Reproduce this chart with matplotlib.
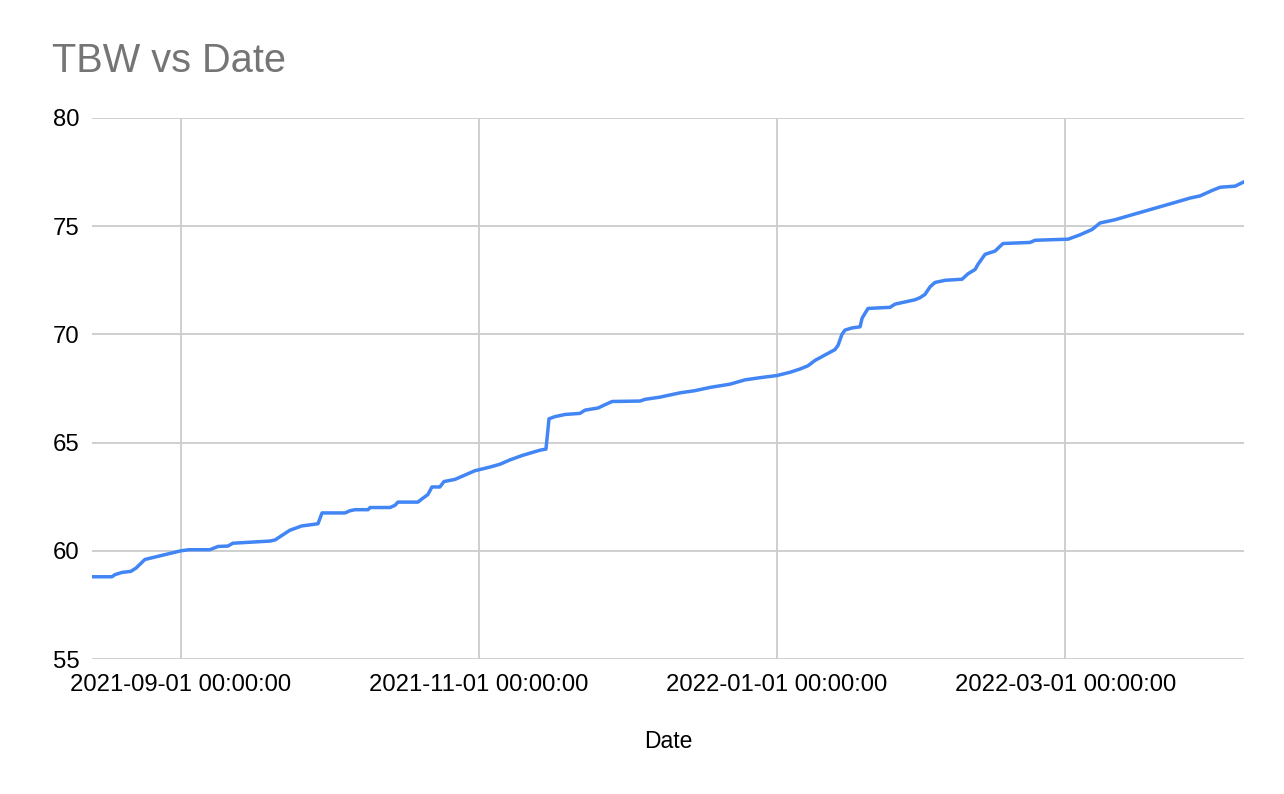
import matplotlib
matplotlib.use("Agg")
import matplotlib.pyplot as plt
import matplotlib.dates as mdates
import pandas as pd

plt.rcParams['font.family'] = ['Liberation Sans', 'DejaVu Sans']

# TBW readings
dates = [
    "2021-08-13 19:00", "2021-08-17 21:00", "2021-08-18 12:00", "2021-08-19 22:00",
    "2021-08-21 18:00", "2021-08-22 19:00", "2021-08-24 15:00", "2021-09-01 00:00",
    "2021-09-02 15:00", "2021-09-06 22:00", "2021-09-08 14:00", "2021-09-10 15:00",
    "2021-09-11 15:00", "2021-09-19 05:00", "2021-09-20 06:00", "2021-09-23 07:00",
    "2021-09-25 18:00", "2021-09-27 10:00", "2021-09-29 01:00", "2021-09-29 21:00",
    "2021-10-04 14:00", "2021-10-05 14:00", "2021-10-06 15:00", "2021-10-09 07:00",
    "2021-10-09 17:00", "2021-10-13 19:00", "2021-10-14 19:00", "2021-10-15 10:00",
    "2021-10-19 12:00", "2021-10-20 08:00", "2021-10-21 13:00", "2021-10-22 09:00",
    "2021-10-24 00:00", "2021-10-24 20:00", "2021-10-27 02:00", "2021-10-29 03:00",
    "2021-10-31 04:00", "2021-11-03 06:00", "2021-11-05 07:00", "2021-11-07 08:00",
    "2021-11-09 19:00", "2021-11-11 20:00", "2021-11-13 12:00", "2021-11-14 17:00",
    "2021-11-15 08:00", "2021-11-16 13:00", "2021-11-18 15:00", "2021-11-21 16:00",
    "2021-11-22 17:00", "2021-11-25 09:00", "2021-11-26 19:00", "2021-11-28 06:00",
    "2021-12-03 23:00", "2021-12-05 00:00", "2021-12-08 01:00", "2021-12-10 02:00",
    "2021-12-12 04:00", "2021-12-15 05:00", "2021-12-18 07:00", "2021-12-22 09:00",
    "2021-12-25 11:00", "2021-12-28 13:00", "2022-01-01 00:00", "2022-01-03 16:00",
    "2022-01-05 17:00", "2022-01-07 08:00", "2022-01-08 19:00", "2022-01-10 20:00",
    "2022-01-12 21:00", "2022-01-13 12:00", "2022-01-14 07:00", "2022-01-14 22:00",
    "2022-01-16 09:00", "2022-01-18 00:00", "2022-01-18 10:00", "2022-01-19 15:00",
    "2022-01-24 03:00", "2022-01-25 04:00", "2022-01-27 05:00", "2022-01-29 06:00",
    "2022-01-30 07:00", "2022-01-31 07:00", "2022-02-01 08:00", "2022-02-02 08:00",
    "2022-02-04 10:00", "2022-02-07 21:00", "2022-02-09 02:00", "2022-02-10 13:00",
    "2022-02-11 04:00", "2022-02-11 23:00", "2022-02-12 14:00", "2022-02-14 15:00",
    "2022-02-16 06:00", "2022-02-21 19:00", "2022-02-22 20:00", "2022-03-01 14:00",
    "2022-03-04 00:00", "2022-03-06 12:00", "2022-03-08 03:00", "2022-03-11 05:00",
    "2022-03-14 06:00", "2022-03-17 08:00", "2022-03-20 10:00", "2022-03-23 12:00",
    "2022-03-26 13:00", "2022-03-28 14:00", "2022-03-31 01:00", "2022-04-01 17:00",
    "2022-04-04 18:00", "2022-04-06 14:00",
]
tbw = [
    58.8, 58.8, 58.9, 59.0, 59.05, 59.2, 59.6, 60.0,
    60.05, 60.05, 60.2, 60.22, 60.35, 60.45, 60.5, 60.95,
    61.15, 61.2, 61.25, 61.75, 61.75, 61.85, 61.9, 61.9,
    62.0, 62.0, 62.1, 62.25, 62.25, 62.4, 62.6, 62.95,
    62.95, 63.2, 63.3, 63.5, 63.7, 63.87, 64.0, 64.2,
    64.4, 64.54, 64.65, 64.7, 66.1, 66.2, 66.3, 66.35,
    66.5, 66.6, 66.75, 66.9, 66.92, 67.0, 67.1, 67.2,
    67.3, 67.4, 67.55, 67.7, 67.9, 68.0, 68.1, 68.25,
    68.4, 68.55, 68.8, 69.05, 69.3, 69.5, 70.0, 70.2,
    70.3, 70.35, 70.75, 71.2, 71.25, 71.4, 71.5, 71.6,
    71.7, 71.85, 72.2, 72.4, 72.5, 72.55, 72.8, 73.0,
    73.25, 73.5, 73.7, 73.85, 74.2, 74.25, 74.35, 74.4,
    74.6, 74.85, 75.15, 75.3, 75.5, 75.7, 75.9, 76.1,
    76.3, 76.4, 76.65, 76.8, 76.85, 77.05,
]
x_ticks = ["2021-09-01", "2021-11-01", "2022-01-01", "2022-03-01"]
y_ticks = [55, 60, 65, 70, 75, 80]

x = pd.to_datetime(dates)

fig = plt.figure(figsize=(12.84, 7.94), dpi=100)
ax = fig.add_axes([92/1284, 1-659/794, (1244-92)/1284, (659-118)/794])

ax.plot(x, tbw, color='#4285F4', linewidth=2.5, solid_joinstyle='round')

ax.set_xlim(x[0], x[-1])
ax.set_ylim(55, 80)
ax.set_yticks(y_ticks)
ax.set_xticks(pd.to_datetime(x_ticks))
ax.xaxis.set_major_formatter(mdates.DateFormatter('%Y-%m-%d %H:%M:%S'))

ax.grid(True, color='#cccccc', linewidth=1.3)
ax.set_axisbelow(True)
for s in ax.spines.values():
    s.set_visible(False)
ax.tick_params(axis='both', length=0, labelsize=17.2, colors='#000000')
ax.tick_params(axis='x', pad=11)
ax.tick_params(axis='y', pad=9)

fig.text(52/1284, 1-61/794, "TBW vs Date", fontsize=28.6, color='#757575',
         ha='left', va='center')
fig.text(668/1284, 1-742/794, "Date", fontsize=16.5, color='#000000',
         ha='center', va='center')

fig.savefig('out.png', dpi=100)
